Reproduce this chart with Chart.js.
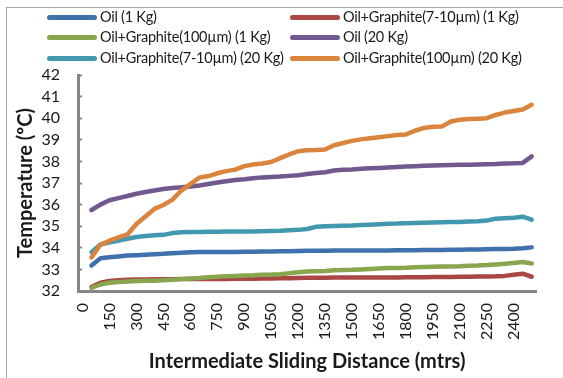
<!DOCTYPE html>
<html>
<head>
<meta charset="utf-8">
<script src="https://cdn.jsdelivr.net/npm/chart.js@4/dist/chart.umd.min.js"></script>
<style>
  html, body { margin: 0; padding: 0; background: #fff; overflow: hidden; }
  #wrap { position: relative; width: 563px; height: 378px; }
  #frame { position: absolute; left: 6px; top: 7px; width: 620px; height: 420px;
           border: 1.5px solid #a6a6a6; box-sizing: border-box; pointer-events: none; }
  #legend { position: absolute; left: 0; top: 0; width: 563px; height: 70px;
            font-family: Lato, "Open Sans", sans-serif; font-size: 14.5px; letter-spacing: -0.25px; color: #1a1a1a; }
  .item { position: absolute; height: 20px; line-height: 20px; white-space: nowrap; }
  .swatch { position: absolute; left: 0; top: 8px; width: 50px; height: 5px; border-radius: 3px; }
  .label { position: absolute; left: 53px; top: 0; }
  canvas { position: absolute; left: 0; top: 0; }
</style>
</head>
<body>
<div id="wrap">
  <canvas id="c" width="563" height="378"></canvas>
  <div id="legend"></div>
  <div id="frame"></div>
</div>
<script>
// Sliding distance in metres, one reading every 50 m (no reading at 0)
const distances = [];
for (let d = 0; d <= 2500; d += 50) distances.push(String(d));

const seriesNames = [
  'Oil (1 Kg)',
  'Oil+Graphite(7-10µm) (1 Kg)',
  'Oil+Graphite(100µm) (1 Kg)',
  'Oil (20 Kg)',
  'Oil+Graphite(7-10µm) (20 Kg)',
  'Oil+Graphite(100µm) (20 Kg)'
];

const oil1 = [null,
  33.18, 33.52, 33.56, 33.60, 33.64, 33.66, 33.68, 33.70, 33.72, 33.75,
  33.77, 33.79, 33.80, 33.80, 33.80, 33.81, 33.81, 33.82, 33.82, 33.83,
  33.83, 33.84, 33.84, 33.85, 33.86, 33.86, 33.86, 33.87, 33.87, 33.87,
  33.88, 33.88, 33.88, 33.88, 33.89, 33.89, 33.89, 33.90, 33.90, 33.90,
  33.91, 33.91, 33.92, 33.92, 33.93, 33.94, 33.95, 33.96, 33.98, 34.02];

const graphite710_1 = [null,
  32.18, 32.38, 32.46, 32.50, 32.52, 32.53, 32.53, 32.54, 32.54, 32.54,
  32.55, 32.55, 32.55, 32.56, 32.56, 32.56, 32.57, 32.57, 32.57, 32.58,
  32.58, 32.59, 32.59, 32.60, 32.61, 32.61, 32.61, 32.62, 32.62, 32.62,
  32.62, 32.63, 32.63, 32.63, 32.63, 32.64, 32.64, 32.64, 32.65, 32.65,
  32.65, 32.66, 32.66, 32.67, 32.67, 32.68, 32.70, 32.75, 32.80, 32.66];

const graphite100_1 = [null,
  32.14, 32.30, 32.38, 32.42, 32.44, 32.46, 32.47, 32.48, 32.50, 32.52,
  32.55, 32.58, 32.60, 32.64, 32.66, 32.68, 32.70, 32.72, 32.73, 32.75,
  32.76, 32.78, 32.82, 32.87, 32.90, 32.92, 32.93, 32.96, 32.97, 32.98,
  33.00, 33.02, 33.04, 33.06, 33.07, 33.08, 33.10, 33.11, 33.12, 33.13,
  33.14, 33.15, 33.17, 33.18, 33.20, 33.23, 33.26, 33.30, 33.34, 33.27];

const oil20 = [null,
  35.75, 36.00, 36.20, 36.30, 36.40, 36.50, 36.58, 36.65, 36.72, 36.77,
  36.80, 36.84, 36.88, 36.95, 37.02, 37.08, 37.14, 37.17, 37.22, 37.26,
  37.28, 37.30, 37.33, 37.36, 37.42, 37.46, 37.50, 37.58, 37.61, 37.63,
  37.66, 37.68, 37.70, 37.72, 37.74, 37.76, 37.78, 37.80, 37.81, 37.82,
  37.83, 37.84, 37.85, 37.86, 37.87, 37.88, 37.90, 37.91, 37.93, 38.23];

const graphite710_20 = [null,
  33.80, 34.15, 34.25, 34.33, 34.42, 34.50, 34.55, 34.58, 34.60, 34.68,
  34.72, 34.73, 34.73, 34.74, 34.74, 34.75, 34.75, 34.76, 34.76, 34.77,
  34.78, 34.79, 34.81, 34.83, 34.87, 34.97, 35.00, 35.01, 35.02, 35.03,
  35.05, 35.07, 35.09, 35.11, 35.12, 35.14, 35.15, 35.16, 35.17, 35.18,
  35.19, 35.20, 35.22, 35.23, 35.26, 35.35, 35.37, 35.39, 35.44, 35.30];

const graphite100_20 = [null,
  33.55, 34.14, 34.33, 34.48, 34.62, 35.10, 35.45, 35.80, 35.98, 36.22,
  36.65, 36.95, 37.25, 37.32, 37.45, 37.55, 37.62, 37.78, 37.86, 37.90,
  37.97, 38.15, 38.32, 38.47, 38.52, 38.53, 38.55, 38.75, 38.85, 38.95,
  39.02, 39.07, 39.12, 39.17, 39.22, 39.25, 39.42, 39.55, 39.60, 39.62,
  39.85, 39.93, 39.96, 39.98, 40.00, 40.15, 40.26, 40.33, 40.40, 40.62];

const seriesValues = [oil1, graphite710_1, graphite100_1, oil20, graphite710_20, graphite100_20];
const seriesColors = ['#4071AC', '#AA4643', '#89A54E', '#71588F', '#4198AF', '#DB843D'];

const axisGrey = '#868686';
const textColor = '#1a1a1a';
const fontFamily = 'Lato, "Open Sans", sans-serif';

const datasets = seriesNames.map((name, i) => ({
  label: name,
  data: seriesValues[i],
  borderColor: seriesColors[i],
  backgroundColor: seriesColors[i],
  borderWidth: 4.5,
  borderCapStyle: 'round',
  borderJoinStyle: 'round',
  pointRadius: 0,
  pointHoverRadius: 0,
  tension: 0,
  fill: false,
  spanGaps: false,
  order: seriesNames.length - i
}));

const chart = new Chart(document.getElementById('c'), {
  type: 'line',
  data: { labels: distances, datasets },
  options: {
    responsive: false,
    animation: false,
    devicePixelRatio: 1,
    layout: { padding: { left: 8, right: 13, top: 75, bottom: 4 } },
    plugins: { legend: { display: false }, tooltip: { enabled: false } },
    scales: {
      x: {
        type: 'category',
        offset: true,
        grid: { display: true, drawOnChartArea: false, drawTicks: false },
        border: { display: true, color: axisGrey, width: 3 },
        ticks: {
          autoSkip: false,
          maxRotation: 90,
          minRotation: 90,
          padding: 12,
          color: textColor,
          font: { family: fontFamily, size: 16 },
          callback: (v, idx) => (idx % 3 === 0 ? distances[idx] : '')
        },
        title: {
          display: true,
          text: 'Intermediate Sliding Distance (mtrs)',
          color: textColor,
          font: { family: fontFamily, size: 20, weight: 'bold' },
          padding: { top: 0, bottom: 0 }
        },
        afterFit: (s) => { s.height = 83; }
      },
      y: {
        min: 32,
        max: 42,
        ticks: {
          stepSize: 1,
          autoSkip: false,
          padding: 22,
          color: textColor,
          font: { family: fontFamily, size: 16 }
        },
        grid: { drawOnChartArea: false, drawTicks: true, tickLength: -4, color: axisGrey, tickWidth: 2 },
        border: { display: true, color: axisGrey, width: 3 },
        title: {
          display: true,
          text: 'Temperature (ºC)',
          color: textColor,
          font: { family: fontFamily, size: 20, weight: 'bold' },
          padding: { top: 6, bottom: 0 }
        },
        afterFit: (s) => { s.width = 70; }
      }
    }
  }
});

// Two-column legend built from the chart's datasets
const legend = document.getElementById('legend');
const colX = [47, 290];
const rowY = [7, 27, 48];
chart.data.datasets.forEach((ds, i) => {
  const item = document.createElement('div');
  item.className = 'item';
  item.style.left = colX[i % 2] + 'px';
  item.style.top = rowY[Math.floor(i / 2)] + 'px';
  const sw = document.createElement('div');
  sw.className = 'swatch';
  sw.style.background = ds.borderColor;
  const lb = document.createElement('div');
  lb.className = 'label';
  lb.textContent = ds.label;
  item.appendChild(sw);
  item.appendChild(lb);
  legend.appendChild(item);
});
</script>
</body>
</html>
